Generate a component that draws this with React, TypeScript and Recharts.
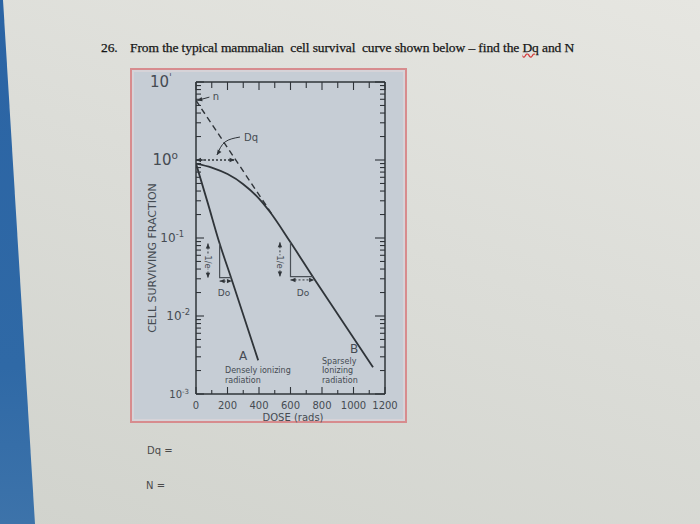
import React from 'react';
import { ComposedChart, Line, XAxis, YAxis } from 'recharts';

// dose axis (rads)
const doseTicks = [0, 100, 200, 300, 400, 500, 600, 700, 800, 900, 1000, 1100, 1200];
const doseLabels = [0, 200, 400, 600, 800, 1000, 1200];

// surviving fraction axis, log decades + minor steps
const decades = [0.001, 0.01, 0.1, 1, 10];
const minorSteps = [2, 3, 4, 5, 6, 7, 8, 9];
const survivalTicks = [
  ...decades,
  ...decades.slice(0, -1).flatMap((d) => minorSteps.map((m) => +(d * m).toPrecision(3))),
].sort((a, b) => a - b);

// curve A, densely ionizing radiation
const doseA = [0, 75, 150, 225, 395];
const survA = [0.9, 0.28, 0.085, 0.03, 0.0027];

// curve B, sparsely ionizing radiation
const doseB = [0, 100, 200, 300, 400, 470, 600, 750, 900, 1124];
const survB = [0.9, 0.8, 0.66, 0.49, 0.32, 0.215, 0.088, 0.03, 0.0105, 0.0022];

// straight part of B extrapolated back to n
const extrapDose = [0, 480];
const extrapSurv = [5.8, 0.205];

// Dq arrow at surviving fraction 1
const dqDose = [0, 245];
const dqSurv = [1, 1];

// D0 triangles
const triADose = [150, 150, 225];
const triASurv = [0.085, 0.031, 0.031];
const triBDose = [600, 600, 745];
const triBSurv = [0.088, 0.032, 0.032];

// 1/e and D0 dotted arrows
const eADose = [76, 76];
const eASurv = [0.085, 0.031];
const eBDose = [533, 533];
const eBSurv = [0.088, 0.032];
const d0ADose = [150, 228];
const d0ASurv = [0.028, 0.028];
const d0BDose = [600, 750];
const d0BSurv = [0.029, 0.029];

// pointer arrows for the labels n and Dq
const nArrowDose = [85, 8];
const nArrowSurv = [6.4, 5.8];
const dqPtrDose = [279, 184, 133];
const dqPtrSurv = [1.97, 1.7, 1.16];

const toRows = (xs: number[], ys: number[]) => xs.map((dose, i) => ({ dose, s: ys[i] }));

const ink = '#2f3439';
const textInk = '#454b52';
const figBg = '#c6cdd5';

const arrowDot = (dirs: (number | null)[]) => (p: any) => {
  const { cx, cy, index } = p;
  const a = dirs[index];
  if (a == null || cx == null || cy == null) return <g key={`n${index}`} />;
  const rad = (a * Math.PI) / 180;
  const L = 5;
  const W = 2.2;
  const bx = cx - L * Math.cos(rad);
  const by = cy - L * Math.sin(rad);
  const px = -Math.sin(rad) * W;
  const py = Math.cos(rad) * W;
  return (
    <polygon
      key={`a${index}`}
      points={`${cx},${cy} ${bx + px},${by + py} ${bx - px},${by - py}`}
      fill={ink}
    />
  );
};

const expOf = (v: number) => Math.round(Math.log10(v));
const isDecade = (v: number) => Math.abs(Math.log10(v) - expOf(v)) < 1e-6;

const LeftTick = (props: any) => {
  const { x, y, payload } = props;
  const v = payload.value;
  const major = isDecade(v);
  const e = expOf(v);
  const dx = e >= -2 ? -18 - 6 * e : -7;
  const fs = e >= 0 ? 15 : e > -3 ? 12 : 10;
  return (
    <g>
      <line x1={x} x2={x + (major ? 8 : 5)} y1={y} y2={y} stroke={ink} strokeWidth={1.1} />
      {major && (
        <text x={x + dx} y={y + fs * 0.35} textAnchor="end" fontSize={fs} fill={textInk} fontFamily="DejaVu Sans">
          10
          <tspan fontSize={fs * 0.7} dy={-fs * 0.4}>
            {e === 0 ? 'o' : e === 1 ? 'ˈ' : String(e)}
          </tspan>
        </text>
      )}
    </g>
  );
};

const RightTick = (props: any) => {
  const { x, y, payload } = props;
  const major = isDecade(payload.value);
  return <line x1={x} x2={x - (major ? 10 : 5)} y1={y} y2={y} stroke={ink} strokeWidth={1.1} />;
};

const BottomTick = (props: any) => {
  const { x, y, payload } = props;
  const v = payload.value;
  const major = doseLabels.includes(v);
  return (
    <g>
      <line x1={x} x2={x} y1={y} y2={y - (major ? 7 : 4)} stroke={ink} strokeWidth={1.1} />
      {major && (
        <text x={x} y={y + 15} textAnchor="middle" fontSize={10} fill={textInk} fontFamily="DejaVu Sans">
          {v}
        </text>
      )}
    </g>
  );
};

const TopTick = (props: any) => {
  const { x, y, payload } = props;
  const major = doseLabels.includes(payload.value);
  return <line x1={x} x2={x} y1={y} y2={y + (major ? 8 : 6)} stroke={ink} strokeWidth={1.1} />;
};

const Txt = ({
  x,
  y,
  size = 9,
  center = true,
  rotate = 0,
  bg,
  color = textInk,
  children,
}: {
  x: number;
  y: number;
  size?: number;
  center?: boolean;
  rotate?: number;
  bg?: string;
  color?: string;
  children: React.ReactNode;
}) => (
  <div
    style={{
      position: 'absolute',
      left: x,
      top: y,
      transform: `translate(${center ? '-50%' : '0'}, -50%) rotate(${rotate}deg)`,
      fontFamily: 'DejaVu Sans, sans-serif',
      fontSize: size,
      lineHeight: 1,
      color,
      whiteSpace: 'nowrap',
      background: bg,
      padding: bg ? '1px 0' : 0,
    }}
  >
    {children}
  </div>
);

export default function App() {
  const curve = { isAnimationActive: false, dot: false, activeDot: false, legendType: 'none' as const };
  // curve A is bound to the top/right axes so that those axes get drawn too
  const topRight = { xAxisId: 'top', yAxisId: 'r' };
  return (
    <div
      style={{
        position: 'absolute',
        left: 0,
        top: 0,
        width: 700,
        height: 524,
        overflow: 'hidden',
        background: 'linear-gradient(200deg, #e6e6e1 0%, #dcddd8 45%, #d1d3cd 100%)',
      }}
    >
      {/* blue edge at the left */}
      <div
        style={{
          position: 'absolute',
          left: 0,
          top: 0,
          width: 40,
          height: 524,
          background: 'linear-gradient(180deg, #2b64a4 0%, #2f69a6 70%, #3d73aa 100%)',
          clipPath: 'polygon(0 0, 3px 0, 35px 524px, 0 524px)',
        }}
      />

      {/* question */}
      <div
        style={{
          position: 'absolute',
          left: 101,
          top: 40,
          fontFamily: 'Liberation Serif, serif',
          fontSize: 13.5,
          letterSpacing: -0.1,
          color: '#161616',
          whiteSpace: 'nowrap',
          WebkitTextStroke: '0.25px #161616',
        }}
      >
        <span>26.</span>
        <span style={{ position: 'absolute', left: 29, top: 0 }}>
          From the typical mammalian&nbsp; cell survival&nbsp; curve shown below – find the{' '}
          <span style={{ textDecoration: 'underline wavy #d23a3a' }}>Dq</span> and N
        </span>
      </div>

      {/* figure frame */}
      <div
        style={{
          position: 'absolute',
          left: 130,
          top: 68,
          width: 273,
          height: 351,
          border: '2px solid #d78c8e',
          background: figBg,
          boxShadow: 'inset 0 0 0 2px #d6d3d8',
        }}
      />

      <div style={{ position: 'absolute', left: 130, top: 68 }}>
        <ComposedChart width={277} height={355} margin={{ top: 13, right: 21, bottom: 0, left: 26 }}>
          <XAxis
            dataKey="dose"
            type="number"
            domain={[0, 1200]}
            ticks={doseTicks}
            interval={0}
            allowDataOverflow
            height={29}
            tickSize={0}
            tickMargin={0}
            tickLine={false}
            tick={<BottomTick />}
            axisLine={{ stroke: ink, strokeWidth: 1.5 }}
          />
          <XAxis
            xAxisId="top"
            orientation="top"
            dataKey="dose"
            type="number"
            domain={[0, 1200]}
            ticks={doseTicks}
            interval={0}
            allowDataOverflow
            height={1}
            tickSize={0}
            tickMargin={0}
            tickLine={false}
            tick={<TopTick />}
            axisLine={{ stroke: ink, strokeWidth: 1.5 }}
          />
          <YAxis
            dataKey="s"
            type="number"
            scale="log"
            domain={[0.001, 10]}
            ticks={survivalTicks}
            interval={0}
            allowDataOverflow
            width={40}
            tickSize={0}
            tickMargin={0}
            tickLine={false}
            tick={<LeftTick />}
            axisLine={{ stroke: ink, strokeWidth: 1.5 }}
          />
          <YAxis
            yAxisId="r"
            orientation="right"
            dataKey="s"
            type="number"
            scale="log"
            domain={[0.001, 10]}
            ticks={survivalTicks}
            interval={0}
            allowDataOverflow
            width={1}
            tickSize={0}
            tickMargin={0}
            tickLine={false}
            tick={<RightTick />}
            axisLine={{ stroke: ink, strokeWidth: 1.5 }}
          />

          <Line
            {...curve}
            {...topRight}
            data={toRows(doseA, survA)}
            dataKey="s"
            type="monotone"
            stroke={ink}
            strokeWidth={1.8}
          />
          <Line {...curve} data={toRows(doseB, survB)} dataKey="s" type="monotone" stroke={ink} strokeWidth={1.8} />
          <Line
            {...curve}
            data={toRows(extrapDose, extrapSurv)}
            dataKey="s"
            type="linear"
            stroke={ink}
            strokeWidth={1.4}
            strokeDasharray="6 4"
          />
          <Line
            {...curve}
            data={toRows(dqDose, dqSurv)}
            dataKey="s"
            type="linear"
            stroke={ink}
            strokeWidth={1.3}
            strokeDasharray="2 2"
            dot={arrowDot([180, 0])}
          />
          <Line {...curve} data={toRows(triADose, triASurv)} dataKey="s" type="linear" stroke="#4a5057" strokeWidth={1.2} />
          <Line {...curve} data={toRows(triBDose, triBSurv)} dataKey="s" type="linear" stroke="#4a5057" strokeWidth={1.2} />
          <Line
            {...curve}
            data={toRows(eADose, eASurv)}
            dataKey="s"
            type="linear"
            stroke={ink}
            strokeWidth={1}
            strokeDasharray="2 2"
            dot={arrowDot([270, 90])}
          />
          <Line
            {...curve}
            data={toRows(eBDose, eBSurv)}
            dataKey="s"
            type="linear"
            stroke={ink}
            strokeWidth={1}
            strokeDasharray="2 2"
            dot={arrowDot([270, 90])}
          />
          <Line
            {...curve}
            data={toRows(d0ADose, d0ASurv)}
            dataKey="s"
            type="linear"
            stroke={ink}
            strokeWidth={1}
            strokeDasharray="2 2"
            dot={arrowDot([180, 0])}
          />
          <Line
            {...curve}
            data={toRows(d0BDose, d0BSurv)}
            dataKey="s"
            type="linear"
            stroke={ink}
            strokeWidth={1}
            strokeDasharray="2 2"
            dot={arrowDot([180, 0])}
          />
          <Line
            {...curve}
            data={toRows(nArrowDose, nArrowSurv)}
            dataKey="s"
            type="linear"
            stroke={ink}
            strokeWidth={1}
            dot={arrowDot([null, 165])}
          />
          <Line
            {...curve}
            data={toRows(dqPtrDose, dqPtrSurv)}
            dataKey="s"
            type="natural"
            stroke={ink}
            strokeWidth={1}
            dot={arrowDot([null, null, 122])}
          />
        </ComposedChart>
      </div>

      {/* axis titles */}
      <Txt x={152} y={258} size={11} rotate={-90}>
        CELL SURVIVING FRACTION
      </Txt>
      <Txt x={293} y={418} size={10}>
        DOSE (rads)
      </Txt>

      {/* annotations */}
      <Txt x={216} y={97} size={10}>
        n
      </Txt>
      <Txt x={251} y={138} size={10}>
        Dq
      </Txt>
      <Txt x={208} y={262} size={8.5} rotate={90} bg={figBg}>
        1/e
      </Txt>
      <Txt x={280} y={262} size={8.5} rotate={90} bg={figBg}>
        1/e
      </Txt>
      <Txt x={224} y={293} size={9}>
        Do
      </Txt>
      <Txt x={303} y={293} size={9}>
        Do
      </Txt>
      <Txt x={243} y={356} size={12}>
        A
      </Txt>
      <Txt x={225} y={371} size={8} center={false}>
        Densely ionizing
      </Txt>
      <Txt x={225} y={381} size={8} center={false}>
        radiation
      </Txt>
      <Txt x={354} y={349} size={12}>
        B
      </Txt>
      <Txt x={322} y={362} size={8} center={false}>
        Sparsely
      </Txt>
      <Txt x={322} y={371} size={8} center={false}>
        Ionizing
      </Txt>
      <Txt x={322} y={381} size={8} center={false}>
        radiation
      </Txt>

      {/* answer lines */}
      <Txt x={147} y={451} size={10} center={false} color="#4a4a4a">
        Dq =
      </Txt>
      <Txt x={146} y={486} size={10} center={false} color="#4a4a4a">
        N =
      </Txt>
    </div>
  );
}
